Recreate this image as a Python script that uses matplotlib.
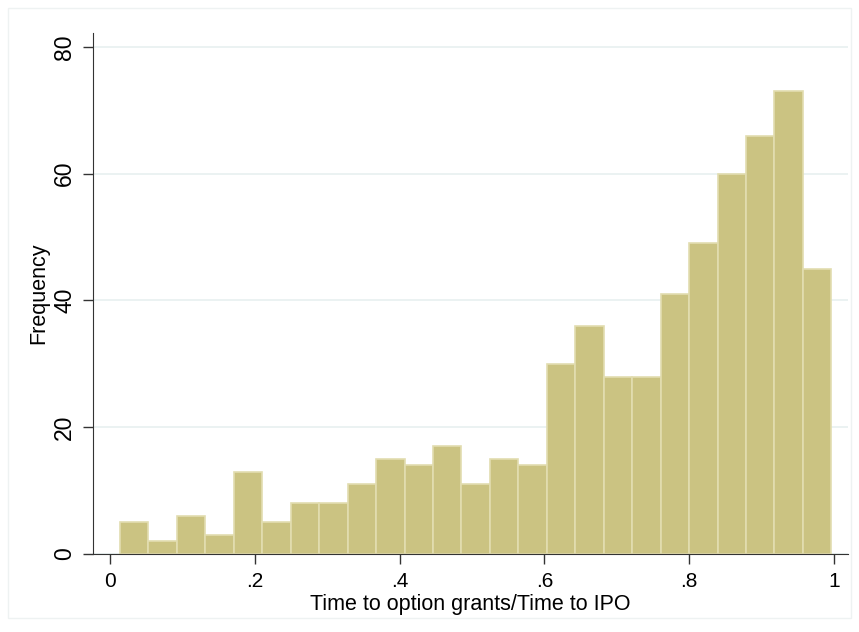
import matplotlib.pyplot as plt
from matplotlib.patches import Rectangle
import numpy as np

plt.rcParams['font.family'] = ['Liberation Sans', 'DejaVu Sans']

# histogram bins (25 equal bins) and counts
bin_start = 0.0138
bin_width = 0.0393
counts = [5, 2, 6, 3, 13, 5, 8, 8, 11, 15, 14, 17, 11, 15, 14,
          30, 36, 28, 28, 41, 49, 60, 66, 73, 45]
xticks = [0, 0.2, 0.4, 0.6, 0.8, 1.0]
xtick_labels = ['0', '.2', '.4', '.6', '.8', '1']
yticks = [0, 20, 40, 60, 80]

fig = plt.figure(figsize=(8.59, 6.32), dpi=100)
fig.patch.set_facecolor('white')
# light outer frame like the stata graph region
fig.patches.append(Rectangle((8/859, 1-618/632), 843/859, 610/632,
                             transform=fig.transFigure, fill=False,
                             edgecolor='#eef2f2', lw=1))

ax = fig.add_axes([93/859, 1-554/632, 755/859, 521/632])
lefts = bin_start + bin_width*np.arange(len(counts))
ax.bar(lefts, counts, width=bin_width, align='edge',
       color='#cbc382', edgecolor='#e2ddb0', linewidth=1.2, zorder=2)

ax.set_xlim(-0.0235, 1.0193)
ax.set_ylim(0, 82.2)
ax.set_xticks(xticks)
ax.set_xticklabels(xtick_labels, fontsize=15)
ax.set_yticks(yticks)
ax.set_yticklabels([str(v) for v in yticks], fontsize=16.5, rotation=90, va='center')
ax.tick_params(direction='out', length=7, width=1, color='#333333')
ax.tick_params(axis='x', pad=6)
ax.tick_params(axis='y', pad=5)
ax.grid(axis='y', color='#e8f0f0', lw=1.2, zorder=0)
ax.set_axisbelow(True)
for s in ['top', 'right']:
    ax.spines[s].set_visible(False)
ax.spines['left'].set_color('#333333')
ax.spines['bottom'].set_color('#333333')
ax.set_xlabel('Time to option grants/Time to IPO', fontsize=15.5, labelpad=2)
ax.set_ylabel('Frequency', fontsize=15.5, labelpad=3)

fig.savefig('out.png', dpi=100)
